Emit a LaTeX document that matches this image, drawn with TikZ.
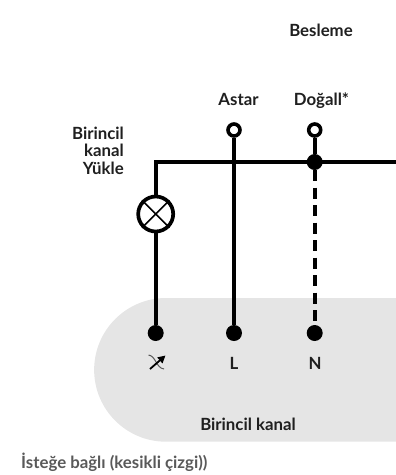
\documentclass[tikz,border=0pt]{standalone}
\usepackage{fontspec}
\setmainfont{Lato}[BoldFont={* Bold}]
\usetikzlibrary{arrows.meta}
\tikzset{
  lbl/.style={font=\fontsize{16.8}{17.5}\selectfont\bfseries,text=black!88,inner sep=0pt},
  wire/.style={line width=3.7pt,black},
  opent/.style={circle,draw=black,fill=white,line width=3.6pt,minimum size=12pt,inner sep=0pt},
  dot/.style={circle,fill=black,minimum size=16pt,inner sep=0pt},
  lamp/.style={circle,draw=black,fill=white,line width=3.7pt,minimum size=35pt,inner sep=0pt}
}
\begin{document}
\begin{tikzpicture}[x=1pt,y=-1pt]
\useasboundingbox (0,0) rectangle (396,475);
\fill[black!10] (396,298) -- (166,298) arc[start angle=270,end angle=90,radius=71.85] -- (396,441.7) -- cycle;
\node[lbl] (bes) at (321,30) {Besleme};
\node[lbl,anchor=base] (ast) at (238.5,105) {Astar};
\node[lbl,anchor=base] (dog) at (321.5,105) {Doğall*};
\node[lbl,align=right,anchor=east] (load) at (124,150.5) {Birincil\\kanal\\Yükle};
\node[opent] (t1) at (234,130) {};
\node[opent] (t2) at (314.7,130) {};
\coordinate (corner) at (155.7,162);
\coordinate (rend) at (396,162);
\node[dot] (j) at (314.7,162) {};
\node[lamp] (lp) at (155.7,214) {};
\node[dot] (a) at (155.7,333) {};
\node[dot] (b) at (234,333) {};
\node[dot] (c) at (314.7,333) {};
\draw[wire] (t1) -- (b);
\draw[wire] (t2) -- (j);
\draw[wire,line cap=butt] (rend) -- (corner) -- (lp);
\draw[wire] (lp) -- (a);
\draw[wire,dash pattern=on 11pt off 6.5pt] (j) -- (c);
\draw[line width=1.6pt] (lp.north west) -- (lp.south east);
\draw[line width=1.6pt] (lp.north east) -- (lp.south west);
% dimmer symbol
\draw[line width=1pt,black!65] (148.5,355) .. controls (156,356) and (156,368) .. (164,369);
\draw[line width=1.8pt,-{Triangle[length=7.5pt,width=7.5pt]}] (150,369) -- (165.5,355.5);
\node[lbl,anchor=base] (L) at (234,369) {L};
\node[lbl,anchor=base] (N) at (315,369) {N};
\node[lbl] (ch) at (248,424) {Birincil kanal};
\node[lbl,anchor=west,text=black!65] (opt) at (21,462.5) {İsteğe bağlı (kesikli çizgi))};
\end{tikzpicture}
\end{document}
